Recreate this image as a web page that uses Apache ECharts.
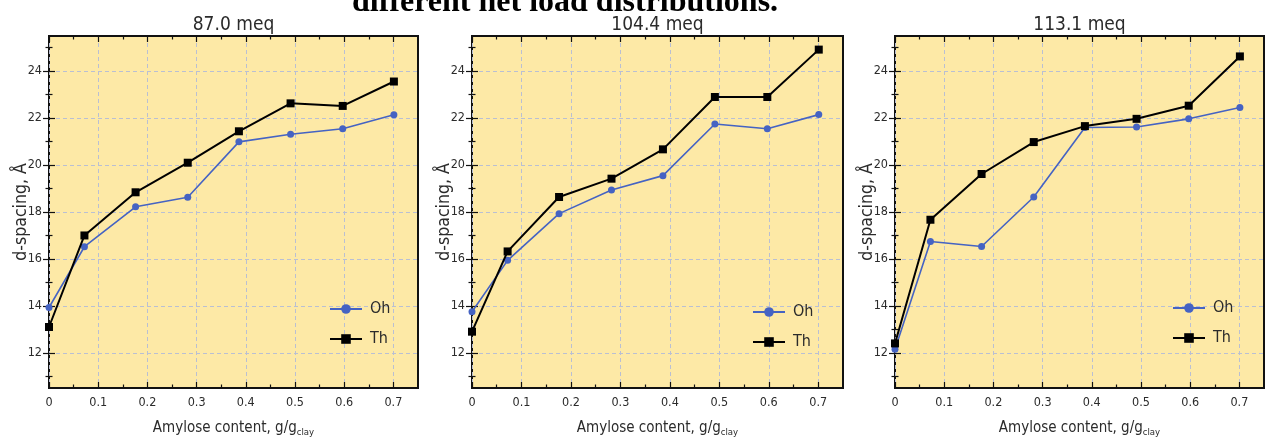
<!DOCTYPE html>
<html>
<head>
<meta charset="utf-8">
<script src="https://cdn.jsdelivr.net/npm/echarts@6/dist/echarts.min.js"></script>
<style>
  html, body { margin: 0; padding: 0; background: #ffffff; }
  #chart { width: 1273px; height: 443px; }
</style>
</head>
<body>
<div id="chart"></div>
<script>
// Amylose content on the x axis (g/g clay), shared by every panel
const amylose = [0, 0.072, 0.176, 0.282, 0.386, 0.491, 0.597, 0.701];

// Panel headings (clay charge)
const panelTitles = ['87.0 meq', '104.4 meq', '113.1 meq'];

// d-spacing (Å) for the octahedral (Oh) and tetrahedral (Th) charge distributions
const oh87  = [13.93, 16.52, 18.22, 18.63, 20.99, 21.31, 21.55, 22.14];
const th87  = [13.10, 17.00, 18.84, 20.10, 21.44, 22.63, 22.52, 23.56];
const oh104 = [13.75, 15.94, 17.93, 18.94, 19.55, 21.75, 21.55, 22.15];
const th104 = [12.90, 16.32, 18.64, 19.42, 20.67, 22.90, 22.90, 24.92];
const oh113 = [12.15, 16.74, 16.53, 18.64, 21.60, 21.62, 21.97, 22.45];
const th113 = [12.40, 17.67, 19.62, 20.98, 21.66, 21.97, 22.53, 24.63];

// Tick values
const xMajorTicks = [0, 0.1, 0.2, 0.3, 0.4, 0.5, 0.6, 0.7];
const xMinorTicks = [0.05, 0.15, 0.25, 0.35, 0.45, 0.55, 0.65];
const yMajorTicks = [12, 14, 16, 18, 20, 22, 24];
const yMinorTicks = [11, 13, 15, 17, 19, 21, 23, 25];

const seriesNames = ['Oh', 'Th'];
const panelOh = [oh87, oh104, oh113];
const panelTh = [th87, th104, th113];

const FONT = "'DejaVu Sans Condensed', 'DejaVu Sans', sans-serif";
const BLUE = '#4563c3';
const BLACK = '#000000';
const TEXT = '#2b2b2b';

const X_MIN = 0, X_MAX = 0.75;
const Y_MIN = 10.5, Y_MAX = 25.5;

// Layout of the three plot frames
const frames = [
  { left: 49,  width: 369 },
  { left: 472, width: 371 },
  { left: 895, width: 369 }
];
const FRAME_TOP = 36, FRAME_HEIGHT = 355;
const legendPos = [
  { left: 329,  top: 301 },
  { left: 752,  top: 304 },
  { left: 1172, top: 300 }
];

const grids = [], xAxes = [], yAxes = [], series = [], titles = [], legends = [];

const pair = (ys) => amylose.map((x, i) => [x, ys[i]]);

const tickStyle = { color: '#111', width: 1.2 };

frames.forEach((f, p) => {
  grids.push({
    left: f.left, top: FRAME_TOP, width: f.width, height: FRAME_HEIGHT,
    show: true, backgroundColor: '#fde9a6', borderColor: '#111', borderWidth: 2,
    containLabel: false
  });

  titles.push({
    text: panelTitles[p],
    left: f.left + f.width / 2, top: 16, textAlign: 'center', padding: 0,
    textStyle: { fontFamily: FONT, fontSize: 19, fontWeight: 'normal', color: TEXT }
  });

  // x axis: bottom with labels and grid lines
  const xBase = xAxes.length;
  xAxes.push({
    gridIndex: p, type: 'value', position: 'bottom', min: X_MIN, max: X_MAX, interval: 0.1,
    axisLine: { show: false },
    axisTick: { show: true, inside: true, length: 6, customValues: xMajorTicks, lineStyle: tickStyle },
    axisLabel: { show: true, customValues: xMajorTicks, margin: 8, fontFamily: FONT, fontSize: 12.5, color: TEXT,
                 formatter: v => String(v) },
    splitLine: { show: true, lineStyle: { type: [4, 3], color: '#b9bfd3', width: 1 } },
    name: 'Amylose content, g/g{s|clay}', nameLocation: 'middle', nameGap: 31, nameMoveOverlap: false,
    nameTextStyle: { fontFamily: FONT, fontSize: 15, color: TEXT,
                     rich: { s: { fontFamily: FONT, fontSize: 9.5, color: TEXT, verticalAlign: 'bottom', padding: [9, 0, 0, 0] } } }
  });
  // minor ticks and the top side mirrors
  xAxes.push({ gridIndex: p, type: 'value', position: 'bottom', min: X_MIN, max: X_MAX, interval: 0.1,
    axisLine: { show: false }, axisLabel: { show: false }, splitLine: { show: false },
    axisTick: { show: true, inside: true, length: 3.5, customValues: xMinorTicks, lineStyle: tickStyle } });
  xAxes.push({ gridIndex: p, type: 'value', position: 'top', min: X_MIN, max: X_MAX, interval: 0.1,
    axisLine: { show: false }, axisLabel: { show: false }, splitLine: { show: false },
    axisTick: { show: true, inside: true, length: 6, customValues: xMajorTicks, lineStyle: tickStyle } });
  xAxes.push({ gridIndex: p, type: 'value', position: 'top', min: X_MIN, max: X_MAX, interval: 0.1,
    axisLine: { show: false }, axisLabel: { show: false }, splitLine: { show: false },
    axisTick: { show: true, inside: true, length: 3.5, customValues: xMinorTicks, lineStyle: tickStyle } });

  // y axis: left with labels and grid lines
  const yBase = yAxes.length;
  yAxes.push({
    gridIndex: p, type: 'value', position: 'left', min: Y_MIN, max: Y_MAX, splitNumber: 7,
    axisLine: { show: false },
    axisTick: { show: true, inside: true, length: 6, customValues: yMajorTicks, lineStyle: tickStyle },
    axisLabel: { show: true, customValues: yMajorTicks, margin: 7, fontFamily: FONT, fontSize: 12.5, color: TEXT },
    splitLine: { show: true, lineStyle: { type: [4, 3], color: '#b9bfd3', width: 1 } },
    name: 'd-spacing, Å', nameLocation: 'middle', nameGap: 19, nameRotate: 90, nameMoveOverlap: false,
    nameTextStyle: { fontFamily: FONT, fontSize: 17.5, color: TEXT }
  });
  yAxes.push({ gridIndex: p, type: 'value', position: 'left', min: Y_MIN, max: Y_MAX, splitNumber: 7,
    axisLine: { show: false }, axisLabel: { show: false }, splitLine: { show: false },
    axisTick: { show: true, inside: true, length: 3.5, customValues: yMinorTicks, lineStyle: tickStyle } });
  yAxes.push({ gridIndex: p, type: 'value', position: 'right', min: Y_MIN, max: Y_MAX, splitNumber: 7,
    axisLine: { show: false }, axisLabel: { show: false }, splitLine: { show: false },
    axisTick: { show: true, inside: true, length: 6, customValues: yMajorTicks, lineStyle: tickStyle } });
  yAxes.push({ gridIndex: p, type: 'value', position: 'right', min: Y_MIN, max: Y_MAX, splitNumber: 7,
    axisLine: { show: false }, axisLabel: { show: false }, splitLine: { show: false },
    axisTick: { show: true, inside: true, length: 3.5, customValues: yMinorTicks, lineStyle: tickStyle } });

  series.push({
    name: seriesNames[0], type: 'line', xAxisIndex: xBase, yAxisIndex: yBase,
    data: pair(panelOh[p]), symbol: 'circle', symbolSize: 7, clip: true,
    lineStyle: { color: BLUE, width: 1.6 }, itemStyle: { color: BLUE }, z: 3
  });
  series.push({
    name: seriesNames[1], type: 'line', xAxisIndex: xBase, yAxisIndex: yBase,
    data: pair(panelTh[p]), symbol: 'rect', symbolSize: 8, clip: true,
    lineStyle: { color: BLACK, width: 2 }, itemStyle: { color: BLACK }, z: 4
  });

  legends.push({
    orient: 'vertical', left: legendPos[p].left, top: legendPos[p].top, padding: 0,
    data: seriesNames, itemWidth: 32, itemHeight: 12, itemGap: 14,
    selectedMode: false,
    textStyle: { fontFamily: FONT, fontSize: 16, color: TEXT, padding: [0, 0, 0, 3] }
  });
});

const chart = echarts.init(document.getElementById('chart'), null, { renderer: 'canvas' });
chart.setOption({
  animation: false,
  backgroundColor: '#ffffff',
  title: titles,
  legend: legends,
  grid: grids,
  xAxis: xAxes,
  yAxis: yAxes,
  series: series,
  graphic: [{
    type: 'text', left: 352, top: -13,
    style: { text: 'different net load distributions.', font: "bold 32px 'Liberation Serif', serif", fill: '#000' }
  }]
});
</script>
</body>
</html>
